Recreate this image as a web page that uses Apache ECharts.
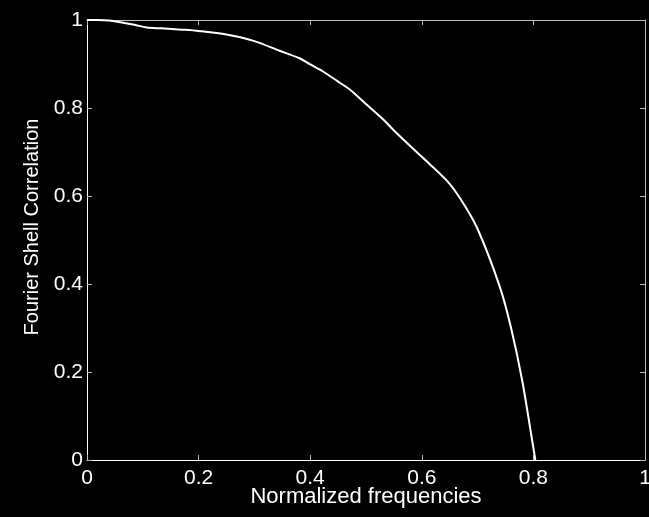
<!DOCTYPE html>
<html>
<head>
<meta charset="utf-8">
<script src="https://cdn.jsdelivr.net/npm/echarts@6/dist/echarts.min.js"></script>
<style>
html,body{margin:0;padding:0;background:#000;}
#chart{width:649px;height:517px;}
</style>
</head>
<body>
<div id="chart"></div>
<script>
const freq = [0, 0.02, 0.04, 0.06, 0.085, 0.107, 0.133, 0.17, 0.2, 0.25, 0.3, 0.345, 0.381, 0.4, 0.423, 0.45, 0.471, 0.5, 0.531, 0.55, 0.6, 0.644, 0.67, 0.7, 0.74, 0.76, 0.78, 0.8, 0.8035];
const fsc  = [1, 1, 0.999, 0.995, 0.989, 0.983, 0.981, 0.978, 0.975, 0.967, 0.952, 0.930, 0.913, 0.899, 0.883, 0.860, 0.842, 0.809, 0.774, 0.749, 0.689, 0.636, 0.592, 0.525, 0.393, 0.30, 0.18, 0.027, 0];
const xTicks = [0, 0.2, 0.4, 0.6, 0.8, 1];
const yTicks = [0, 0.2, 0.4, 0.6, 0.8, 1];
const xTitle = 'Normalized frequencies';
const yTitle = 'Fourier Shell Correlation';

const chart = echarts.init(document.getElementById('chart'));
const font = "'Liberation Sans', Arial, Helvetica, sans-serif";
const labelFmt = v => (v === 0 || v === 1) ? String(v) : v.toFixed(1);
chart.setOption({
  backgroundColor: '#000',
  animation: false,
  grid: {left: 87, right: 4, top: 20, bottom: 57, containLabel: false, outerBoundsMode: 'none'},
  xAxis: [{
    type: 'value', min: 0, max: 1, interval: 0.2, position: 'bottom',
    name: xTitle, nameLocation: 'middle', nameGap: 26, nameMoveOverlap: false,
    nameTextStyle: {color: '#fff', fontSize: 22, fontFamily: font},
    axisLine: {onZero: false, lineStyle: {color: '#fff', width: 1}},
    axisTick: {inside: true, length: 5, lineStyle: {color: '#bbb'}},
    axisLabel: {color: '#fff', fontSize: 21, fontFamily: font, margin: 8, formatter: labelFmt},
    splitLine: {show: false}
  }, {
    type: 'value', min: 0, max: 1, interval: 0.2, position: 'top',
    axisLine: {show: true, onZero: false, lineStyle: {color: '#bbb', width: 1}},
    axisTick: {inside: true, length: 5, lineStyle: {color: '#bbb'}},
    axisLabel: {show: false}, splitLine: {show: false}
  }],
  yAxis: [{
    type: 'value', min: 0, max: 1, interval: 0.2, position: 'left',
    name: yTitle, nameLocation: 'middle', nameGap: 45, nameMoveOverlap: false,
    nameTextStyle: {color: '#fff', fontSize: 20, fontFamily: font, padding: [0, 0, 0, 26]},
    axisLine: {show: true, onZero: false, lineStyle: {color: '#fff', width: 1}},
    axisTick: {inside: true, length: 5, lineStyle: {color: '#bbb'}},
    axisLabel: {color: '#fff', fontSize: 21, fontFamily: font, margin: 4, formatter: labelFmt},
    splitLine: {show: false}
  }, {
    type: 'value', min: 0, max: 1, interval: 0.2, position: 'right',
    axisLine: {show: true, onZero: false, lineStyle: {color: '#bbb', width: 1}},
    axisTick: {show: true, inside: true, length: 5, lineStyle: {color: '#bbb'}},
    axisLabel: {show: false}, splitLine: {show: false}
  }],
  series: [{
    type: 'line',
    xAxisIndex: 0, yAxisIndex: 0,
    data: freq.map((x, i) => [x, fsc[i]]),
    showSymbol: false, smooth: 0.3,
    lineStyle: {color: '#fff', width: 2}
  }]
});
</script>
</body>
</html>
